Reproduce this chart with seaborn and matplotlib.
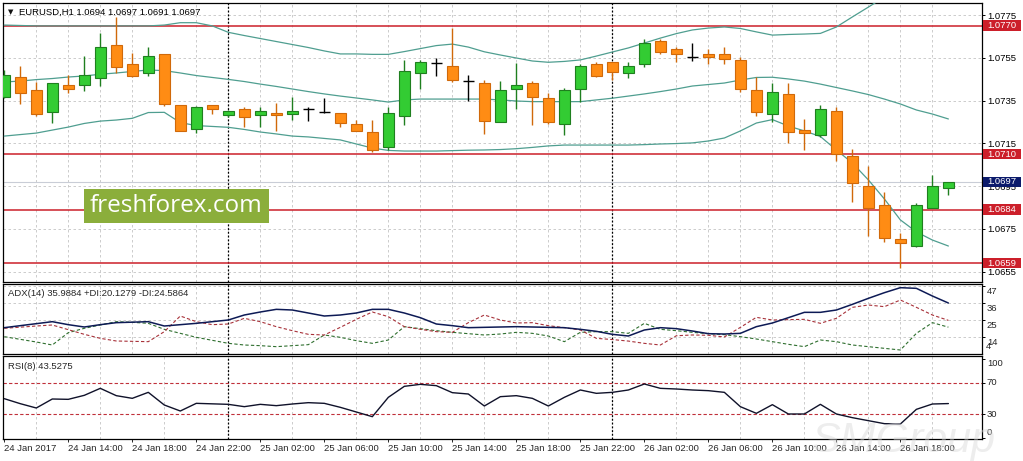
import numpy as np
import pandas as pd
import matplotlib
matplotlib.use("Agg")
import matplotlib.pyplot as plt
import seaborn as sns
from matplotlib.patches import Rectangle
from matplotlib import transforms as mtrans

# ---------------- data ----------------
symbol = "EURUSD,H1"
start_time = "2017-01-24 10:00"

opens = [1.07368, 1.07459, 1.07399, 1.07298, 1.07423, 1.07421, 1.07457, 1.07610, 1.07521, 1.07477,
         1.07568, 1.07328, 1.07218, 1.07328, 1.07281, 1.07311, 1.07281, 1.07290, 1.07289, 1.07312,
         1.07298, 1.07290, 1.07240, 1.07202, 1.07131, 1.07279, 1.07477, 1.07524, 1.07512, 1.07441,
         1.07431, 1.07248, 1.07405, 1.07431, 1.07361, 1.07239, 1.07405, 1.07521, 1.07530, 1.07477,
         1.07520, 1.07627, 1.07590, 1.07552, 1.07568, 1.07568, 1.07540, 1.07399, 1.07289, 1.07379,
         1.07212, 1.07190, 1.07301, 1.07091, 1.06951, 1.06862, 1.06701, 1.06671, 1.06849, 1.06940]
highs = [1.07493, 1.07513, 1.07438, 1.07431, 1.07469, 1.07558, 1.07664, 1.07742, 1.07571, 1.07602,
         1.07568, 1.07328, 1.07325, 1.07328, 1.07306, 1.07319, 1.07319, 1.07340, 1.07368, 1.07319,
         1.07361, 1.07290, 1.07259, 1.07259, 1.07321, 1.07540, 1.07540, 1.07550, 1.07688, 1.07469,
         1.07446, 1.07441, 1.07524, 1.07441, 1.07387, 1.07407, 1.07521, 1.07532, 1.07530, 1.07532,
         1.07638, 1.07636, 1.07599, 1.07618, 1.07590, 1.07602, 1.07555, 1.07459, 1.07434, 1.07431,
         1.07262, 1.07328, 1.07321, 1.07122, 1.07044, 1.06921, 1.06732, 1.06870, 1.07002, 1.06970]
lows = [1.07362, 1.07334, 1.07278, 1.07246, 1.07387, 1.07396, 1.07418, 1.07477, 1.07459, 1.07465,
        1.07325, 1.07209, 1.07200, 1.07287, 1.07275, 1.07228, 1.07228, 1.07209, 1.07259, 1.07256,
        1.07290, 1.07228, 1.07209, 1.07111, 1.07119, 1.07236, 1.07403, 1.07465, 1.07438, 1.07349,
        1.07192, 1.07248, 1.07309, 1.07236, 1.07239, 1.07189, 1.07345, 1.07459, 1.07446, 1.07457,
        1.07508, 1.07566, 1.07530, 1.07536, 1.07521, 1.07521, 1.07389, 1.07279, 1.07250, 1.07150,
        1.07119, 1.07178, 1.07069, 1.06877, 1.06717, 1.06690, 1.06569, 1.06664, 1.06849, 1.06910]
closes = [1.07468, 1.07387, 1.07287, 1.07431, 1.07405, 1.07468, 1.07599, 1.07508, 1.07465, 1.07558,
          1.07334, 1.07209, 1.07319, 1.07309, 1.07300, 1.07272, 1.07301, 1.07281, 1.07301, 1.07312,
          1.07298, 1.07246, 1.07209, 1.07119, 1.07290, 1.07488, 1.07529, 1.07524, 1.07446, 1.07441,
          1.07256, 1.07399, 1.07421, 1.07368, 1.07248, 1.07399, 1.07512, 1.07466, 1.07485, 1.07512,
          1.07620, 1.07578, 1.07566, 1.07552, 1.07555, 1.07544, 1.07405, 1.07298, 1.07390, 1.07202,
          1.07200, 1.07309, 1.07099, 1.06963, 1.06849, 1.06709, 1.06683, 1.06860, 1.06951, 1.06970]

bb_upper = [1.07703, 1.07701, 1.07699, 1.07699, 1.07699, 1.07699, 1.07699, 1.07699, 1.07699, 1.07699,
            1.07703, 1.07714, 1.07714, 1.07699, 1.07669, 1.07654, 1.07640, 1.07626, 1.07612, 1.07598,
            1.07582, 1.07568, 1.07568, 1.07566, 1.07566, 1.07579, 1.07593, 1.07607, 1.07614, 1.07600,
            1.07578, 1.07563, 1.07549, 1.07535, 1.07529, 1.07533, 1.07540, 1.07558, 1.07577, 1.07596,
            1.07619, 1.07642, 1.07663, 1.07680, 1.07689, 1.07694, 1.07687, 1.07671, 1.07656, 1.07659,
            1.07661, 1.07664, 1.07694, 1.07741, 1.07787, 1.07834, np.nan, np.nan, np.nan, np.nan]
bb_middle = [1.07437, 1.07441, 1.07448, 1.07453, 1.07460, 1.07465, 1.07473, 1.07479, 1.07486, 1.07493,
             1.07490, 1.07479, 1.07467, 1.07458, 1.07449, 1.07439, 1.07427, 1.07416, 1.07404, 1.07392,
             1.07381, 1.07371, 1.07362, 1.07353, 1.07343, 1.07353, 1.07357, 1.07357, 1.07357, 1.07357,
             1.07357, 1.07353, 1.07348, 1.07345, 1.07345, 1.07345, 1.07345, 1.07353, 1.07361, 1.07371,
             1.07381, 1.07392, 1.07404, 1.07418, 1.07425, 1.07432, 1.07446, 1.07458, 1.07459, 1.07451,
             1.07441, 1.07427, 1.07411, 1.07395, 1.07378, 1.07357, 1.07334, 1.07306, 1.07287, 1.07264]
bb_lower = [1.07184, 1.07191, 1.07198, 1.07212, 1.07226, 1.07243, 1.07254, 1.07259, 1.07267, 1.07294,
            1.07295, 1.07247, 1.07233, 1.07229, 1.07225, 1.07215, 1.07203, 1.07194, 1.07184, 1.07180,
            1.07173, 1.07166, 1.07147, 1.07128, 1.07117, 1.07114, 1.07114, 1.07114, 1.07116, 1.07118,
            1.07119, 1.07121, 1.07125, 1.07131, 1.07138, 1.07142, 1.07142, 1.07142, 1.07142, 1.07142,
            1.07144, 1.07147, 1.07149, 1.07152, 1.07161, 1.07175, 1.07208, 1.07245, 1.07261, 1.07231,
            1.07208, 1.07182, 1.07119, 1.07058, 1.06979, 1.06890, 1.06792, 1.06736, 1.06698, 1.06670]

adx = [19.80, 21.12, 22.43, 23.74, 21.77, 20.24, 21.77, 23.09, 23.41, 23.74,
       20.90, 21.77, 22.65, 23.74, 24.84, 28.12, 30.09, 31.84, 31.40, 29.43,
       27.46, 28.12, 29.43, 31.84, 31.84, 29.43, 26.37, 22.21, 21.12, 19.80,
       20.02, 20.24, 20.46, 20.24, 20.02, 19.80, 18.71, 17.40, 15.43, 14.33,
       18.27, 19.80, 19.15, 17.61, 15.86, 15.64, 16.08, 20.46, 22.87, 26.37,
       29.87, 29.87, 31.40, 35.12, 39.06, 42.78, 46.07, 45.63, 40.59, 35.99]
plus_di = [13.89, 12.14, 10.39, 8.42, 16.52, 19.37, 21.55, 23.74, 23.30, 22.65,
           18.71, 16.08, 13.46, 11.49, 9.52, 8.42, 7.98, 7.33, 7.98, 8.64,
           14.99, 13.46, 11.27, 9.52, 11.71, 20.46, 19.15, 17.83, 16.74, 15.86,
           14.99, 15.64, 16.74, 16.08, 14.33, 10.61, 16.74, 17.18, 17.18, 16.08,
           22.65, 18.71, 17.83, 16.74, 15.86, 15.21, 13.89, 12.36, 10.61, 8.86,
           7.33, 11.71, 10.61, 8.42, 7.33, 6.23, 5.14, 16.08, 23.09, 20.13]
minus_di = [19.37, 20.13, 20.90, 21.55, 18.49, 15.43, 12.80, 11.05, 10.83, 10.61,
            17.18, 27.46, 23.74, 21.77, 22.21, 25.93, 23.74, 20.46, 17.83, 15.43,
            14.99, 20.02, 25.27, 30.09, 27.03, 20.46, 18.71, 17.18, 16.74, 23.09,
            28.12, 24.84, 22.87, 23.09, 21.12, 19.80, 18.27, 12.80, 12.00, 11.00,
            9.50, 8.42, 14.50, 15.00, 14.80, 13.70, 20.00, 26.59, 24.84, 25.06,
            25.27, 22.65, 25.93, 33.15, 34.69, 33.59, 37.97, 33.15, 28.12, 24.59]
rsi = [49.72, 43.41, 37.95, 49.30, 48.88, 53.93, 62.76, 53.51, 50.14, 57.71,
       41.73, 34.16, 43.83, 43.20, 42.57, 39.63, 42.57, 40.89, 42.99, 44.68,
       43.83, 38.79, 32.90, 27.01, 51.41, 65.29, 67.81, 66.13, 57.29, 55.61,
       40.47, 52.25, 53.51, 50.14, 40.47, 51.41, 60.66, 56.45, 57.71, 60.66,
       68.23, 62.76, 61.92, 60.66, 59.82, 57.71, 39.63, 31.22, 42.15, 30.38,
       30.38, 42.57, 30.38, 25.75, 21.96, 18.18, 17.76, 36.26, 42.99, 43.53]

levels = [1.0770, 1.0710, 1.0684, 1.0659]
bid = 1.0697
price_ticks = [1.0775, 1.0755, 1.0735, 1.0715, 1.0695, 1.0675, 1.0655]
adx_ticks = [47, 36, 25, 14]
adx_min_label = 4
rsi_ticks = [100, 70, 30, 0]
rsi_levels = [70, 30]
title_ohlc = "1.0694 1.0697 1.0691 1.0697"
adx_title = "ADX(14) 35.9884 +DI:20.1279 -DI:24.5864"
rsi_title = "RSI(8) 43.5275"

# ---------------- style ----------------
W, H = 1023, 461
sns.set_style("white")
plt.rcParams["font.family"] = ["Liberation Sans", "DejaVu Sans"]
FS = 6.8

BULL, BULL_EDGE = "#33cc33", "#1f7f1f"
BEAR, BEAR_EDGE = "#ff8c14", "#d0690a"
BAND = "#4f9e90"
LEVEL = "#cc1f2a"
GRID = "#c4c4c4"

fig = plt.figure(figsize=(W / 100, H / 100), dpi=100)
fig.patch.set_facecolor("white")


def rect(x0, y0, x1, y1):
    return [x0 / W, 1 - y1 / H, (x1 - x0) / W, (y1 - y0) / H]


ax = fig.add_axes(rect(3, 3, 982, 282))
axd = fig.add_axes(rect(3, 284, 982, 354))
axr = fig.add_axes(rect(3, 356, 982, 438.7))

times = pd.date_range(start_time, periods=len(opens), freq="h")
bars = np.arange(len(opens))
XLIM = (-0.08, 61.1)
day_starts = bars[times.hour == 0]

for a in (ax, axd, axr):
    a.set_facecolor("white")
    a.set_xlim(*XLIM)
    for s in a.spines.values():
        s.set_color("black")
        s.set_linewidth(0.9)
    a.yaxis.tick_right()
    a.tick_params(axis="y", which="both", right=True, left=False, length=2.2, width=0.7,
                  pad=1.3, labelsize=FS, colors="black")
    a.set_xticks(bars[2::2], minor=True)
    a.grid(False)
    a.grid(True, axis="x", which="minor", color=GRID, lw=0.6, ls=(0, (3, 3)), zorder=0)
    for d in day_starts:
        a.axvline(d, color="black", lw=0.9, ls=(0, (1.5, 1.5)), zorder=1)
    a.set_axisbelow(True)

# ---------------- main price panel ----------------
o = np.array(opens); h = np.array(highs); l = np.array(lows); c = np.array(closes)
ax.set_ylim(1.065018, 1.078061)
ax.set_yticks(price_ticks)
ax.set_yticklabels([f"{t:.4f}" for t in price_ticks])
ax.grid(True, axis="y", which="major", color=GRID, lw=0.6, ls=(0, (3, 3)), zorder=0)
ax.tick_params(axis="x", which="both", bottom=False, labelbottom=False)

ax.axhline(bid, color="#c9cdd6", lw=0.8, zorder=1)
for lv in levels:
    ax.axhline(lv, color=LEVEL, lw=1.1, zorder=2)

for series in (bb_upper, bb_middle, bb_lower):
    sns.lineplot(x=bars, y=series, ax=ax, color=BAND, lw=0.9, estimator=None, zorder=3)

bull = c > o
bear = c < o
doji = c == o
bw = 0.66
ax.vlines(bars[bull], l[bull], h[bull], color=BULL_EDGE, lw=1.0, zorder=4)
ax.vlines(bars[bear], l[bear], h[bear], color=BEAR_EDGE, lw=1.0, zorder=4)
ax.vlines(bars[doji], l[doji], h[doji], color="black", lw=1.0, zorder=4)
ax.bar(bars[bull], (c - o)[bull], bottom=o[bull], width=bw, color=BULL,
       edgecolor=BULL_EDGE, lw=0.8, zorder=5)
ax.bar(bars[bear], (c - o)[bear], bottom=o[bear], width=bw, color=BEAR,
       edgecolor=BEAR_EDGE, lw=0.8, zorder=5)
ax.hlines(o[doji], bars[doji] - bw / 2, bars[doji] + bw / 2, color="black", lw=1.0, zorder=5)
ax.set_xlabel("")
ax.set_ylabel("")

# right side price boxes
blend = mtrans.blended_transform_factory(ax.transAxes, ax.transData)
px = (1.078061 - 1.065018) / 279.0
box_h = 10.5 * px
box_x0 = 1.0008
box_w = 38.5 / 979
for lv, col in [(lv, LEVEL) for lv in levels] + [(bid, "#0b1a6b")]:
    ax.add_patch(Rectangle((box_x0, lv - box_h / 2), box_w, box_h, transform=blend,
                           facecolor=col, edgecolor="none", clip_on=False, zorder=8))
    ax.text(box_x0 + box_w / 2, lv, f"{lv:.4f}", transform=blend, ha="center", va="center",
            color="white", fontsize=FS, clip_on=False, zorder=9)

fig.text(8 / W, 1 - 12 / H, "\u25BC", fontsize=5, va="center", ha="left",
         family=["DejaVu Sans"], color="#101010")
fig.text(19 / W, 1 - 12 / H, f"{symbol} {title_ohlc}", fontsize=FS, va="center", ha="left",
         color="black")

# ---------------- ADX panel ----------------
axd.set_ylim(2.51, 48.48)
axd.set_yticks(adx_ticks)
axd.set_yticklabels([])
axd.grid(True, axis="y", which="major", color=GRID, lw=0.6, ls=(0, (3, 3)), zorder=0)
axd.tick_params(axis="x", which="both", bottom=False, labelbottom=False)
sns.lineplot(x=bars, y=plus_di, ax=axd, color="#2f6f2f", lw=0.8, ls=(0, (3, 2)), estimator=None)
sns.lineplot(x=bars, y=minus_di, ax=axd, color="#a8323a", lw=0.8, ls=(0, (3, 2)), estimator=None)
sns.lineplot(x=bars, y=adx, ax=axd, color="#0d1a55", lw=1.1, estimator=None)
axd.set_xlabel(""); axd.set_ylabel("")
bd = mtrans.blended_transform_factory(axd.transAxes, axd.transData)
for t in adx_ticks:
    axd.text(1.005, t, str(t), fontsize=FS, ha="left", va="center", clip_on=False,
             transform=mtrans.offset_copy(bd, fig=fig, y=-5.5, units="dots"))
axd.text(1.0035, adx_min_label, str(adx_min_label), fontsize=FS, ha="left", va="center",
         clip_on=False, transform=mtrans.offset_copy(bd, fig=fig, y=5.0, units="dots"))
fig.text(8 / W, 1 - 293.5 / H, adx_title, fontsize=FS, va="center", ha="left")

# ---------------- RSI panel ----------------
axr.set_ylim(-0.79, 103.56)
axr.set_yticks(rsi_ticks)
axr.set_yticklabels([])
for lv in rsi_levels:
    axr.axhline(lv, color="#c0303a", lw=0.8, ls=(0, (3, 2)), zorder=1)
sns.lineplot(x=bars, y=rsi, ax=axr, color="#10122a", lw=1.0, estimator=None)
axr.set_xlabel(""); axr.set_ylabel("")
br = mtrans.blended_transform_factory(axr.transAxes, axr.transData)
for t, dy in zip(rsi_ticks, [-4.5, 0, 0, 5.5]):
    axr.text(1.005, t, str(t), fontsize=FS, ha="left", va="center", clip_on=False,
             transform=mtrans.offset_copy(br, fig=fig, y=dy, units="dots"))
fig.text(8 / W, 1 - 366 / H, rsi_title, fontsize=FS, va="center", ha="left")

xlabels = []
for i, t in enumerate(times[::4]):
    xlabels.append(f"{t.day} {t:%b} {t.year}" if i == 0 else f"{t.day} {t:%b} {t:%H:%M}")
axr.set_xticks(bars[::4])
axr.set_xticklabels(xlabels, ha="left", fontsize=FS)
axr.tick_params(axis="x", which="major", bottom=True, length=2.2, width=0.7, pad=1.5,
                labelsize=FS)
axr.tick_params(axis="x", which="minor", bottom=False)

# ---------------- watermarks ----------------
fig.patches.append(Rectangle((84 / W, 1 - 223 / H), 185 / W, 34 / H, transform=fig.transFigure,
                             facecolor="#8bae3b", edgecolor="none", zorder=20))
fig.text(176.5 / W, 1 - 206 / H, "freshforex.com", fontsize=17.5, color="white",
         family=["Open Sans", "DejaVu Sans"], ha="center", va="center", zorder=21)
fig.text(812 / W, 1 - 441 / H, "SMGroup", fontsize=31, style="italic", color="#d8d8d8",
         alpha=0.45, ha="left", va="center", zorder=22)

fig.savefig("out.png", dpi=100, facecolor="white")
